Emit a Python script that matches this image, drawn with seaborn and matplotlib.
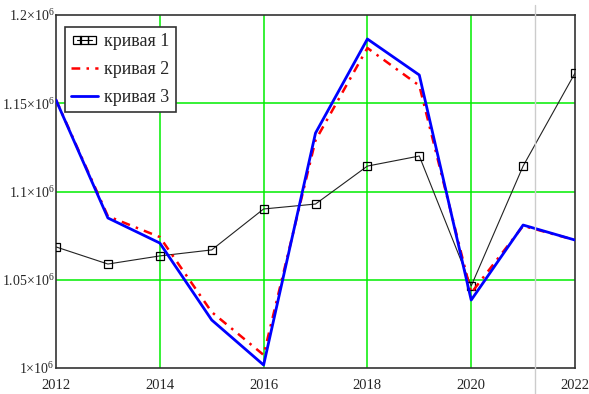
import matplotlib
matplotlib.use("Agg")
import matplotlib.pyplot as plt
import matplotlib.lines as mlines
from matplotlib.legend_handler import HandlerLine2D
import seaborn as sns
import pandas as pd

years = [2012, 2013, 2014, 2015, 2016, 2017, 2018, 2019, 2020, 2021, 2022]
curve1 = [1.0686e6, 1.0589e6, 1.0635e6, 1.0669e6, 1.0901e6, 1.0929e6, 1.1144e6, 1.1201e6, 1.0465e6, 1.1144e6, 1.1671e6]
curve2 = [1.1520e6, 1.0860e6, 1.0742e6, 1.0317e6, 1.0074e6, 1.1290e6, 1.1813e6, 1.1600e6, 1.0425e6, 1.0805e6, 1.0725e6]
curve3 = [1.1518e6, 1.0850e6, 1.0708e6, 1.0272e6, 1.0017e6, 1.1331e6, 1.1864e6, 1.1660e6, 1.0385e6, 1.0810e6, 1.0725e6]
labels = ["кривая 1", "кривая 2", "кривая 3"]
xticks = [2012, 2014, 2016, 2018, 2020, 2022]
yticks = [1.0e6, 1.05e6, 1.1e6, 1.15e6, 1.2e6]
ytick_labels = [r"$\mathregular{1{\times}10^{6}}$", r"$\mathregular{1.05{\times}10^{6}}$",
                r"$\mathregular{1.1{\times}10^{6}}$", r"$\mathregular{1.15{\times}10^{6}}$",
                r"$\mathregular{1.2{\times}10^{6}}$"]

sns.set_style("white")
plt.rcParams['font.family'] = ['Liberation Serif', 'DejaVu Serif']
plt.rcParams['mathtext.fontset'] = 'custom'
plt.rcParams['mathtext.rm'] = 'Liberation Serif'

df = pd.DataFrame({"year": years, "c1": curve1, "c2": curve2, "c3": curve3})

fig = plt.figure(figsize=(5.89, 3.94), dpi=100)
ax = fig.add_axes([56/589, 26/394, 519/589, 353/394])

for v in [2014, 2016, 2018, 2020]:
    ax.axvline(v, color="#00ee00", lw=1.1, zorder=0)
for v in [1.05e6, 1.1e6, 1.15e6]:
    ax.axhline(v, color="#00ee00", lw=1.1, zorder=0)

dashdot = (0, (3.5, 2.5, 1, 2.5))
sns.lineplot(data=df, x="year", y="c1", ax=ax, color="#222222", lw=0.8,
             marker="s", markersize=5.5, markerfacecolor="none",
             markeredgecolor="black", markeredgewidth=0.9, zorder=3)
sns.lineplot(data=df, x="year", y="c2", ax=ax, color="#ff0000", lw=1.8,
             dashes=False, zorder=4)
ax.lines[-1].set_linestyle(dashdot)
sns.lineplot(data=df, x="year", y="c3", ax=ax, color="#0000ff", lw=2.0, zorder=5)

ax.set_xlim(2012, 2022)
ax.set_ylim(1.0e6, 1.2e6)
ax.set_xticks(xticks)
ax.set_xticklabels([str(x) for x in xticks], fontsize=10.5)
ax.set_yticks(yticks)
ax.set_yticklabels(ytick_labels, fontsize=10)
ax.set_xlabel("")
ax.set_ylabel("")
ax.tick_params(axis="x", length=0, pad=8)
ax.tick_params(axis="y", length=0, pad=1)
for s in ax.spines.values():
    s.set_color("#333333")
    s.set_linewidth(1.2)

h1 = mlines.Line2D([], [], color="black", lw=0.8, marker="s", markersize=5.5,
                   markerfacecolor="none", markeredgewidth=0.9)
h2 = mlines.Line2D([], [], color="#ff0000", lw=1.8, linestyle=dashdot)
h3 = mlines.Line2D([], [], color="#0000ff", lw=2.0)
leg = ax.legend([h1, h2, h3], labels, loc="upper left",
                bbox_to_anchor=(9/519, 1 - 12/353), fontsize=13,
                frameon=True, fancybox=False, framealpha=1,
                edgecolor="#333333", handlelength=1.45, handletextpad=0.35,
                borderpad=0.35, labelspacing=0.6, borderaxespad=0,
                handler_map={h1: HandlerLine2D(numpoints=3)})
leg.get_frame().set_linewidth(1.2)

fig.add_artist(mlines.Line2D([535/589, 535/589], [0, 1 - 5/394],
                             color="#cccccc", lw=1.0, transform=fig.transFigure, zorder=1))

fig.savefig("out.png", dpi=100)
